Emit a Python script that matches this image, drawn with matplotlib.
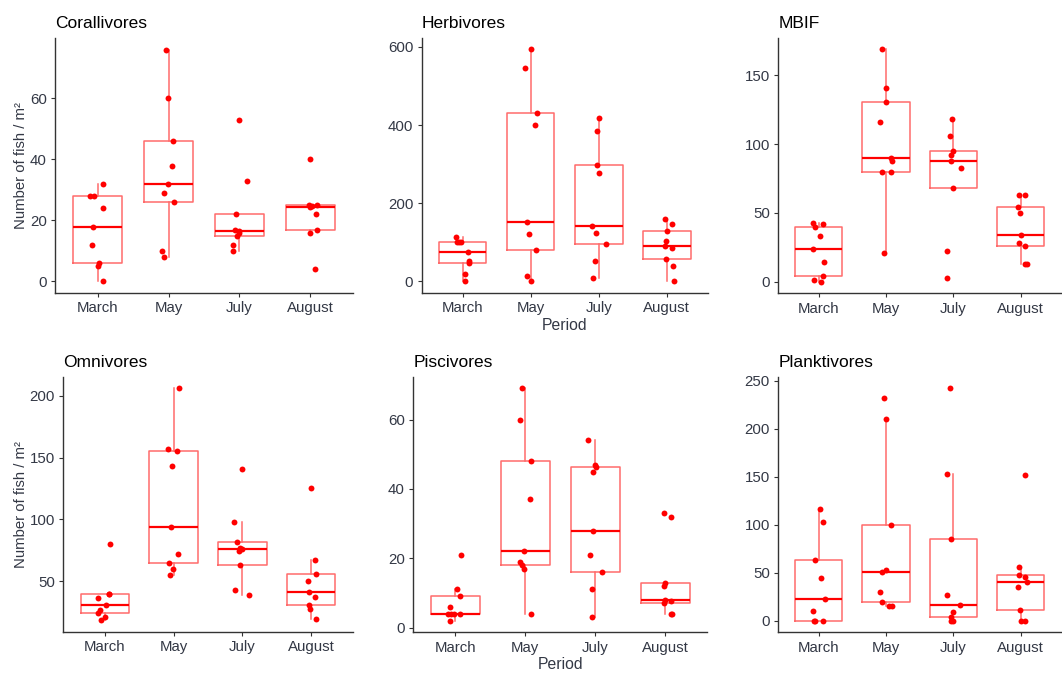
import matplotlib.pyplot as plt
import numpy as np

plt.rcParams['font.family'] = ['Liberation Sans', 'DejaVu Sans']

months = ["March", "May", "July", "August"]
titles = ["Corallivores", "Herbivores", "MBIF", "Omnivores", "Piscivores", "Planktivores"]

# fish counts per period, one list per month (9 sites each)
corallivores = [
    [28, 28, 32, 24, 18, 12, 6, 5, 0],
    [76, 60, 46, 38, 32, 29, 26, 10, 8],
    [53, 33, 22, 17, 16.5, 16, 15, 12, 10],
    [40, 25, 24.4, 25, 22, 17, 16, 4, 24.6],
]
herbivores = [
    [113, 102, 100, 76, 51, 46, 19, 2, 100],
    [594, 545, 432, 401, 151, 122, 81, 14, 0],
    [417, 385, 297, 277, 143, 125, 96, 53, 9],
    [159, 146, 130, 103, 91, 85, 58, 39, 0],
]
mbif = [
    [43, 40, 42, 33, 24, 14, 4, 1.4, 0],
    [169, 141, 131, 116, 90, 88, 79.5, 79.5, 21],
    [118, 106, 95, 92, 88, 83, 68, 22, 3],
    [63, 63, 54, 50, 34, 28, 26, 13, 13],
]
omnivores = [
    [80, 39.3, 36.4, 31.1, 26.5, 24.6, 21.2, 18.5, 39.6],
    [206, 157, 155, 143, 94, 72, 65, 60, 55],
    [141, 98, 82, 77, 76, 74, 63, 43, 39],
    [125, 67, 56, 50, 41, 37, 30.5, 27.6, 19.8],
]
piscivores = [
    [21, 11, 9, 6, 4, 4, 4, 2, 4],
    [69, 60, 48, 37, 22, 19, 18, 17, 4],
    [54, 47, 46.3, 45, 28, 21, 16, 11, 3],
    [33, 32, 13, 12, 8, 7.6, 7, 4, 4],
]
planktivores = [
    [116, 103, 63, 44.5, 23, 10, 0, 0, 0],
    [232, 210, 100, 53, 51, 30, 19, 15, 15],
    [242, 153, 85.5, 27, 16, 8.6, 3.8, 0, 0],
    [152, 55.5, 47.6, 45.5, 40, 35.5, 11.4, 0, 0],
]

# horizontal jitter of the points
jit_coral = [
    [-0.11, -0.05, 0.07, 0.08, -0.07, -0.08, 0.02, 0.01, 0.07],
    [-0.03, -0.01, 0.06, 0.05, -0.01, -0.06, 0.08, -0.09, -0.07],
    [-0.01, 0.10, -0.05, -0.06, -0.01, 0.0, -0.04, -0.09, -0.09],
    [-0.01, -0.02, 0.0, 0.09, 0.08, 0.09, -0.01, 0.07, 0.02],
]
jit_herb = [
    [-0.09, -0.08, -0.05, 0.08, 0.10, 0.09, 0.04, 0.03, -0.03],
    [0.0, -0.09, 0.10, 0.07, -0.06, -0.03, 0.08, -0.06, 0.0],
    [0.01, -0.02, -0.03, 0.0, -0.10, -0.04, 0.10, -0.05, -0.08],
    [-0.02, 0.07, 0.0, -0.01, -0.03, 0.08, -0.01, 0.09, 0.10],
]
jit_mbif = [
    [-0.08, -0.06, 0.07, 0.02, -0.09, 0.08, 0.07, -0.07, 0.03],
    [-0.06, 0.0, 0.0, -0.09, 0.07, 0.09, -0.06, 0.08, -0.03],
    [-0.02, -0.05, 0.0, -0.04, -0.03, 0.11, 0.0, -0.09, -0.09],
    [-0.03, 0.07, -0.04, -0.01, 0.0, -0.03, 0.06, 0.06, 0.09],
]
jit_omni = [
    [0.08, 0.07, -0.10, 0.02, -0.07, -0.10, 0.01, -0.05, 0.06],
    [0.08, -0.08, 0.05, -0.02, -0.04, 0.07, -0.07, -0.01, -0.05],
    [-0.01, -0.12, -0.08, -0.04, -0.01, -0.05, -0.04, -0.11, 0.09],
    [-0.01, 0.06, 0.07, -0.05, -0.03, 0.06, -0.04, -0.02, 0.07],
]
jit_pisc = [
    [0.08, 0.03, 0.07, -0.08, -0.10, -0.02, 0.07, -0.08, -0.06],
    [-0.04, -0.08, 0.09, 0.07, -0.01, -0.07, -0.04, -0.01, 0.08],
    [-0.10, 0.0, 0.01, -0.03, -0.03, -0.08, 0.10, -0.05, -0.05],
    [-0.02, 0.09, 0.0, -0.01, 0.0, 0.08, -0.02, 0.09, 0.10],
]
jit_plank = [
    [0.02, 0.07, -0.06, 0.03, 0.09, -0.09, -0.07, -0.05, 0.07],
    [-0.03, 0.0, 0.08, 0.0, -0.06, -0.09, -0.06, 0.05, 0.09],
    [-0.05, -0.09, -0.03, -0.09, 0.10, 0.0, -0.03, -0.04, 0.0],
    [0.07, -0.03, -0.03, 0.07, 0.09, -0.04, -0.01, 0.0, 0.06],
]

yticks = [
    [0, 20, 40, 60],
    [0, 200, 400, 600],
    [0, 50, 100, 150],
    [50, 100, 150, 200],
    [0, 20, 40, 60],
    [0, 50, 100, 150, 200, 250],
]

groups = [corallivores, herbivores, mbif, omnivores, piscivores, planktivores]
jitters = [jit_coral, jit_herb, jit_mbif, jit_omni, jit_pisc, jit_plank]

W, H = 1062, 674
# panel boxes in pixels: left, top, right, bottom
boxes = [
    (55, 38, 353, 293),
    (421.7, 37.7, 707.7, 293),
    (778.3, 37.7, 1061, 293.3),
    (63.3, 376.7, 352.7, 631.7),
    (413.3, 376.7, 707, 632.3),
    (778.3, 376.7, 1061, 632.3),
]

fig = plt.figure(figsize=(W / 100, H / 100), dpi=100)

box_col = "#ff6b6b"
red = "#ff0000"
txt_col = "#333845"

for i in range(6):
    l, t, r, b = boxes[i]
    ax = fig.add_axes([l / W, (H - b) / H, (r - l) / W, (b - t) / H])
    data = groups[i]
    pos = np.arange(1, 5)
    ax.boxplot(data, positions=pos, widths=0.7, whis=1.5, showfliers=False,
               patch_artist=False,
               boxprops=dict(color=box_col, linewidth=1.1),
               whiskerprops=dict(color=box_col, linewidth=1.1),
               capprops=dict(linewidth=0),
               medianprops=dict(color=red, linewidth=1.6))
    for k in range(4):
        xs = pos[k] + np.array(jitters[i][k])
        ax.scatter(xs, data[k], s=18, color=red, zorder=3, linewidths=0)

    allv = np.concatenate([np.array(d, dtype=float) for d in data])
    lo, hi = allv.min(), allv.max()
    pad = 0.05 * (hi - lo)
    ax.set_ylim(lo - pad, hi + pad)
    ax.set_xlim(0.4, 4.6)
    ax.set_xticks(pos)
    ax.set_xticklabels(months)
    ax.set_yticks(yticks[i])

    for s in ["top", "right"]:
        ax.spines[s].set_visible(False)
    for s in ["left", "bottom"]:
        ax.spines[s].set_color("#333333")
        ax.spines[s].set_linewidth(1.0)
    ax.tick_params(axis="both", length=3, width=0.8, color="#333333",
                   labelsize=10.8, labelcolor=txt_col, pad=3)
    ax.set_title(titles[i], loc="left", fontsize=12.5, color="black", pad=7)

    if i in (0, 3):
        ax.set_ylabel("Number of fish / m²", fontsize=10.7, color=txt_col, labelpad=1.5)
    if i in (1, 4):
        ax.set_xlabel("Period", fontsize=11.3, color=txt_col, labelpad=2)

fig.savefig("out.png", dpi=100)
